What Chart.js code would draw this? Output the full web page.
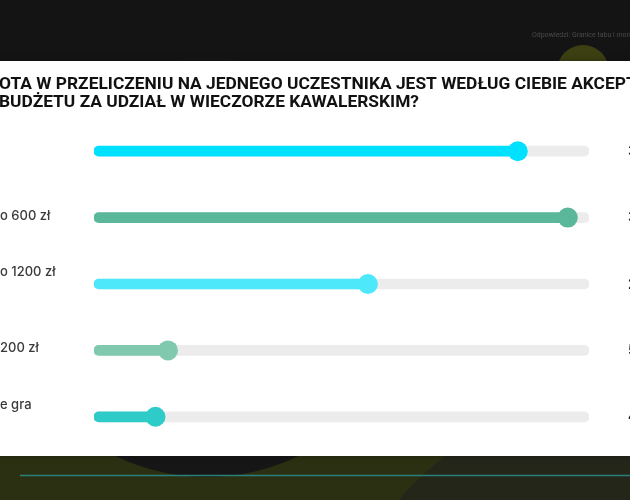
<!DOCTYPE html>
<html lang="pl">
<head>
<meta charset="UTF-8">
<title>Budżet wieczoru kawalerskiego</title>
<style>
    html, body { margin: 0; padding: 0; background: #141414; overflow: hidden; }
    #wykres { display: block; }
</style>
</head>
<body>
<canvas id="wykres" width="630" height="500"></canvas>

<script src="https://cdn.jsdelivr.net/npm/chart.js"></script>
<script>
    // dane (kadr ucina lewe i prawe krawędzie)
    const kategorie = ['', 'o 600 zł', ['o 1200 zł', ''], '200 zł', ['e gra', '']];
    const procenty = [33, 37, 21, 5, 4];
    const kolory = ['#00e1ff', '#5bb79a', '#4de9fa', '#80c9ae', '#2ecbc9'];
    const tytul = [
        'OTA W PRZELICZENIU NA JEDNEGO UCZESTNIKA JEST WEDŁUG CIEBIE AKCEPTOWALNA',
        'BUDŻETU ZA UDZIAŁ W WIECZORZE KAWALERSKIM?'
    ];
    const naglowek = 'Odpowiedzi: Granice tabu i moralności';

    const X_MIN = -0.92;
    const X_MAX = 38.7;

    function kolo(c, x, y, r) {
        c.beginPath();
        c.arc(x, y, r, 0, Math.PI * 2);
        c.fill();
    }

    const tlo = {
        id: 'tlo',
        beforeDraw(chart) {
            const c = chart.ctx, W = chart.width, H = chart.height;
            c.save();
            c.fillStyle = '#141414';
            c.fillRect(0, 0, W, H);

            c.fillStyle = '#4a4a4a';
            c.font = '7px Roboto';
            c.textBaseline = 'middle';
            c.fillText(naglowek, 532, 35);

            c.fillStyle = '#3c3f12';
            kolo(c, 583, 71, 26);

            // dół slajdu
            c.fillStyle = '#2c3012';
            c.fillRect(0, 456, W, H - 456);
            c.fillStyle = '#24261a';
            kolo(c, 650, 720, 334);
            c.fillStyle = '#161616';
            kolo(c, 207, 267, 210);
            c.strokeStyle = '#2a7f7c';
            c.lineWidth = 1.5;
            c.beginPath();
            c.moveTo(20, 475.5);
            c.lineTo(W, 475.5);
            c.stroke();

            // biała karta
            c.shadowColor = 'rgba(0,0,0,0.3)';
            c.shadowBlur = 6;
            c.fillStyle = '#ffffff';
            c.fillRect(-20, 61, W + 40, 395);
            c.shadowBlur = 0;

            // tytuł, ściśnięty w poziomie
            c.fillStyle = '#111111';
            c.font = 'bold 17px Roboto';
            c.textBaseline = 'alphabetic';
            const sx = 420 / c.measureText(tytul[1]).width;
            c.scale(sx, 1);
            c.fillText(tytul[0], -1 / sx, 89);
            c.fillText(tytul[1], -1 / sx, 107);
            c.restore();
        },
        afterDatasetsDraw(chart) {
            const c = chart.ctx, y = chart.scales.y;
            c.save();
            c.fillStyle = '#222222';
            c.font = 'bold 15px Inter';
            c.textBaseline = 'middle';
            procenty.forEach((v, i) => {
                c.fillText(v + '%', 628, y.getPixelForValue(i));
            });
            c.restore();
        }
    };

    new Chart(document.getElementById('wykres'), {
        type: 'bar',
        data: {
            labels: kategorie,
            datasets: [
                {
                    type: 'line',
                    indexAxis: 'y',
                    data: procenty,
                    showLine: false,
                    pointRadius: 10,
                    pointHoverRadius: 10,
                    pointBorderWidth: 0,
                    pointBackgroundColor: kolory,
                    order: 0
                },
                {
                    data: procenty.map(v => [X_MIN, v]),
                    backgroundColor: kolory,
                    barThickness: 10,
                    borderRadius: 5,
                    borderSkipped: false,
                    grouped: false,
                    order: 1
                },
                {
                    data: procenty.map(() => [X_MIN, X_MAX]),
                    backgroundColor: '#ececec',
                    barThickness: 10,
                    borderRadius: 5,
                    borderSkipped: false,
                    grouped: false,
                    order: 2
                }
            ]
        },
        options: {
            indexAxis: 'y',
            responsive: false,
            animation: false,
            layout: { padding: { top: 118, bottom: 50, left: 0, right: 41 } },
            plugins: {
                legend: { display: false },
                tooltip: { enabled: false }
            },
            scales: {
                x: { min: X_MIN, max: X_MAX, display: false },
                y: {
                    grid: { display: false },
                    border: { display: false },
                    ticks: {
                        crossAlign: 'far',
                        padding: 0,
                        labelOffset: -2,
                        color: '#3a3a3a',
                        font: { family: 'Inter', size: 13, weight: '500', lineHeight: 1.54 }
                    },
                    afterFit(s) { s.width = 94; }
                }
            }
        },
        plugins: [tlo]
    });
</script>
</body>
</html>
